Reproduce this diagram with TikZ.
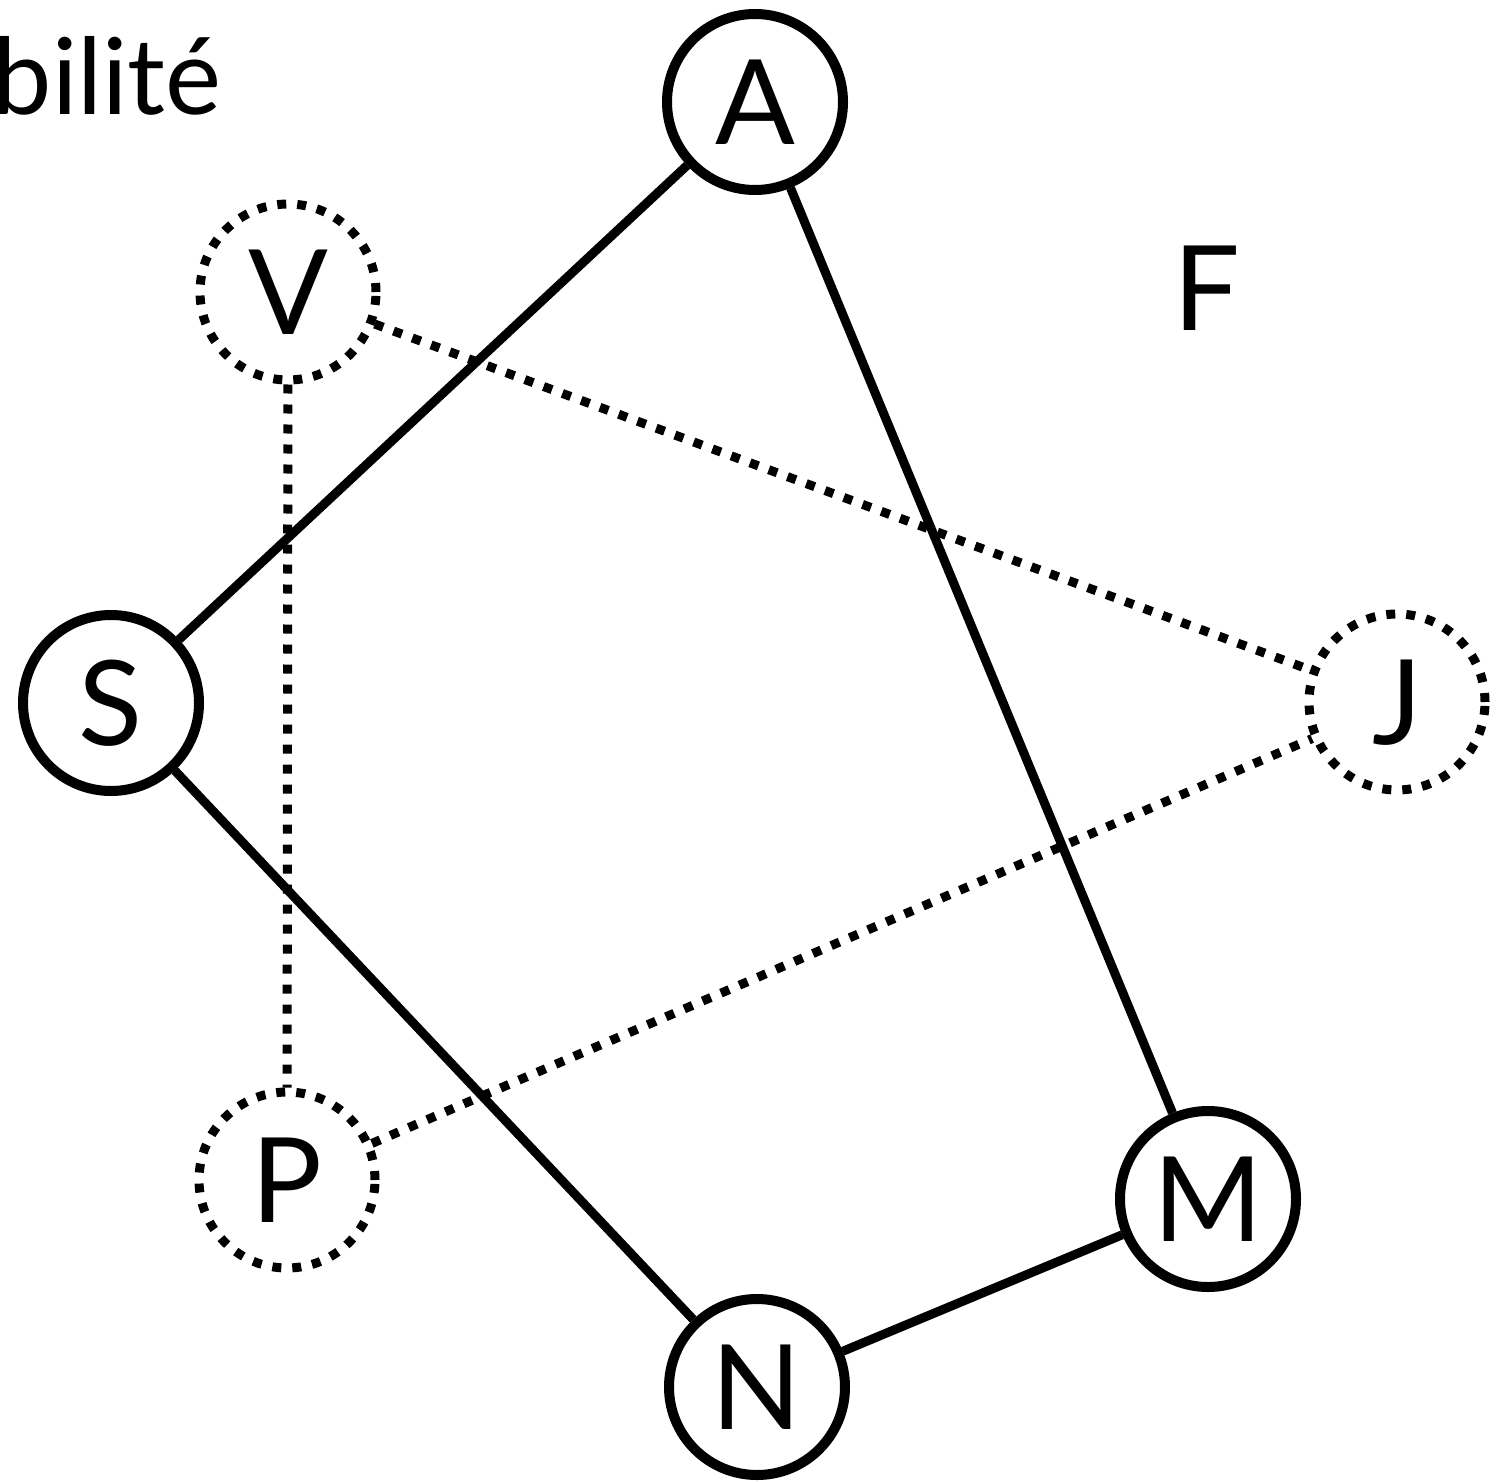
\documentclass[tikz,border=0pt]{standalone}
\usepackage{fontspec}
\setmainfont{Lato}
\begin{document}
\begin{tikzpicture}[x=0.5pt,y=-0.5pt,
  letter/.style={font=\fontsize{59pt}{60pt}\selectfont, text height=42.3pt, text depth=0pt, inner sep=0pt},
  vertex/.style={letter, circle, draw, line width=5pt, minimum size=88pt},
  ghost/.style={letter, circle, draw, line width=4.5pt, dash pattern=on 4.5pt off 5.5pt, minimum size=88pt},
  solidedge/.style={line width=4.5pt},
  dotedge/.style={line width=4.5pt, dash pattern=on 4.5pt off 5.5pt}]
\useasboundingbox (0,0) rectangle (1509,1482);
\node[anchor=base east, font=\fontsize{53pt}{54pt}\selectfont, inner sep=0pt] (title) at (222,115) {bilité};
\node[vertex] (A) at (755,102) {A};
\node[ghost] (V) at (288,292) {V};
\node[vertex] (S) at (111,703) {S};
\node[ghost] (J) at (1397,702) {J};
\node[ghost] (P) at (287,1180) {P};
\node[vertex] (M) at (1208,1199) {M};
\node[vertex] (N) at (757,1387) {N};
\node[letter] (F) at (1207,288) {F};
\draw[solidedge] (S) -- (A);
\draw[solidedge] (A) -- (M);
\draw[solidedge] (S) -- (N);
\draw[solidedge] (N) -- (M);
\draw[dotedge] (V) -- (J);
\draw[dotedge] (V) -- (P);
\draw[dotedge] (P) -- (J);
\end{tikzpicture}
\end{document}
